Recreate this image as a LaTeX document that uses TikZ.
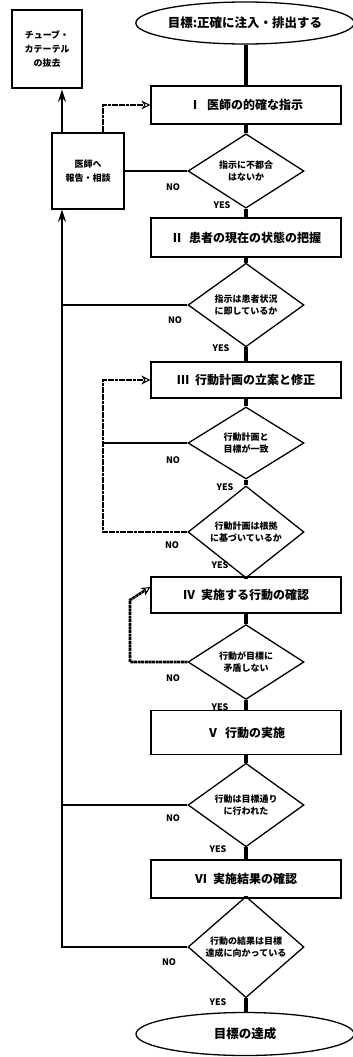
\documentclass[tikz,border=0pt]{standalone}
\usepackage{fontspec}
\setmainfont{Noto Sans CJK JP}
\usetikzlibrary{shapes.geometric,arrows.meta}
\tikzset{
  stepbox/.style={draw, line width=1.3pt, minimum width=190pt, minimum height=37pt, inner sep=2pt,
    font=\bfseries\fontsize{12}{14}\selectfont},
  dec/.style={diamond, draw, line width=1.3pt, minimum width=116pt, minimum height=73pt, inner sep=0pt,
    align=center, font=\bfseries\fontsize{9}{12}\selectfont},
  term/.style={ellipse, draw, line width=1.3pt, minimum width=218pt, minimum height=42pt, inner sep=0pt,
    font=\bfseries\fontsize{12.5}{14}\selectfont},
  sidebox/.style={draw, line width=1.3pt, align=center, inner sep=0pt,
    font=\bfseries\fontsize{9}{14}\selectfont},
  flow/.style={line width=4pt},
  back/.style={line width=2.6pt},
  fb/.style={line width=2.6pt, dash pattern=on 3pt off 0.6pt},
  lab/.style={font=\bfseries\fontsize{9}{10}\selectfont, inner sep=0pt},
  uptip/.style={-{Stealth[length=12pt,width=8pt]}},
  opentip/.style={-{Stealth[open,length=9pt,width=9pt,line width=1pt]}}
}
\begin{document}
\begin{tikzpicture}[x=1pt,y=-1pt]
\useasboundingbox (0,0) rectangle (353,1057);
% nodes
\node[term] (goal) at (245,23) {目標:正確に注入・排出する};
\node[sidebox, minimum width=70pt, minimum height=78pt] (tube) at (47,49) {チューブ・\\カテーテル\\の抜去};
\node[stepbox, minimum height=38pt] (b1) at (246,105) {Ⅰ\enspace 医師の的確な指示};
\node[sidebox, minimum width=72pt, minimum height=76pt] (report) at (88,171) {医師へ\\報告・相談};
\node[dec] (d1) at (246,171) {指示に不都合\\はないか};
\node[stepbox, minimum height=39pt] (b2) at (246,237.5) {Ⅱ\enspace 患者の現在の状態の把握};
\node[dec, minimum height=75pt] (d2) at (246,305) {指示は患者状況\\に即しているか};
\node[stepbox, minimum height=36pt] (b3) at (246,380) {Ⅲ\enspace 行動計画の立案と修正};
\node[dec, minimum height=72pt] (d3) at (246,443) {行動計画と\\目標が一致};
\node[dec, minimum height=77pt] (d4) at (246,532) {行動計画は根拠\\に基づいているか};
\node[stepbox, minimum height=36pt] (b4) at (246,595) {Ⅳ\enspace 実施する行動の確認};
\node[dec, minimum height=71pt] (d5) at (246,662) {行動が目標に\\矛盾しない};
\node[stepbox, minimum height=44pt] (b5) at (246,732.5) {Ⅴ\enspace 行動の実施};
\node[dec, minimum height=74pt] (d6) at (246,805) {行動は目標通り\\に行われた};
\node[stepbox, minimum height=38pt] (b6) at (246,879) {Ⅵ\enspace 実施結果の確認};
\node[dec, minimum height=73pt] (d7) at (246,947) {行動の結果は目標\\達成に向かっている};
\node[term, minimum height=43pt] (end) at (245,1034) {目標の達成};
% main flow
\draw[flow] (goal.south -| b1.north) -- (b1.north);
\draw[flow] (b1) -- (d1);
\draw[flow] (d1) -- (b2);
\draw[flow] (b2) -- (d2);
\draw[flow] (d2) -- (b3);
\draw[flow] (b3) -- (d3);
\draw[flow] (d3) -- (d4);
\draw[flow] (d4) -- (b4);
\draw[flow] (b4) -- (d5);
\draw[flow] (d5) -- (b5);
\draw[flow] (b5) -- (d6);
\draw[flow] (d6) -- (b6);
\draw[flow] (b6) -- (d7);
\draw[flow] (d7.south) -- (end.north -| d7.south);
% helper x positions
\coordinate (xA) at (62,0);
\coordinate (xB) at (103,0);
\coordinate (c4) at (130,600);
% report box links
\draw[back] (d1.west) -- (report.east);
\draw[back, uptip, shorten >=1pt] (report.north -| xA) -- (tube.south -| xA);
\draw[fb, opentip] (report.north -| xB) |- (b1.west);
% main return line
\draw[back] (d2.west) -- (d2.west -| xA);
\draw[back] (d6.west) -- (d6.west -| xA);
\draw[back, uptip] (d7.west) -| (report.south -| xA);
% loop to III
\draw[back] (d3.west) -- (d3.west -| xB);
\draw[fb, opentip] (d4.west) -| (xB |- b3.west) -- (b3.west);
% loop to IV
\draw[fb, opentip] (d5.west) -| (c4) -- ([yshift=8pt]b4.west);
% labels
\node[lab] (n1) at (173,187) {NO};
\node[lab] (n2) at (175,320) {NO};
\node[lab] (n3) at (173,460) {NO};
\node[lab] (n4) at (172,545) {NO};
\node[lab] (n5) at (173,678) {NO};
\node[lab] (n6) at (173,818) {NO};
\node[lab] (n7) at (169,962) {NO};
\node[lab] (y1) at (222,205) {YES};
\node[lab] (y2) at (221,348) {YES};
\node[lab] (y3) at (225,487) {YES};
\node[lab] (y4) at (220,565) {YES};
\node[lab] (y5) at (220,707) {YES};
\node[lab] (y6) at (218,849) {YES};
\node[lab] (y7) at (218,1002) {YES};
\end{tikzpicture}
\end{document}
